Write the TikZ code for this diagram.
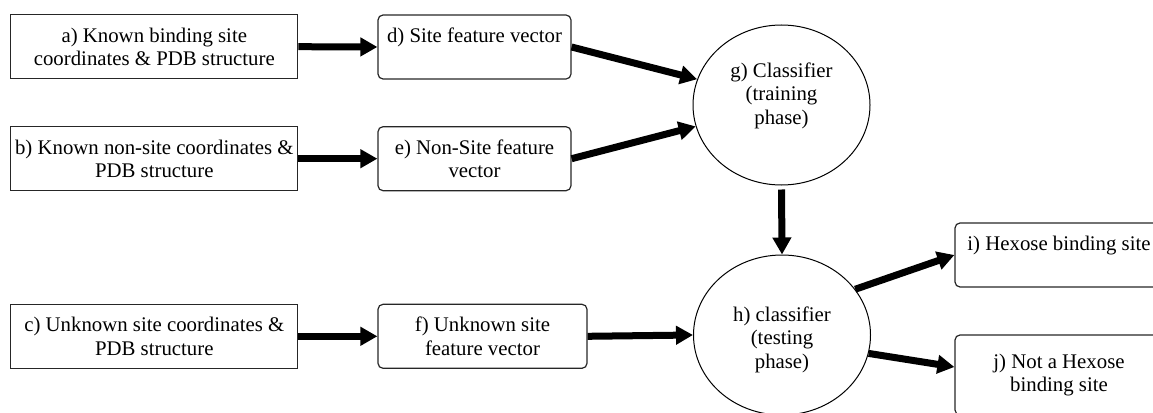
\documentclass[tikz,border=0pt]{standalone}
\usepackage{fontspec}
\setmainfont{Liberation Serif}
\usetikzlibrary{arrows.meta,shapes.geometric}
\begin{document}
\begin{tikzpicture}[x=1pt,y=-1pt,
  txt/.style={font=\fontsize{20.8}{23.5}\selectfont, align=center, text=black},
  sqbox/.style={txt, draw=black!85, line width=1.2pt, rectangle, inner sep=0pt, minimum height=64pt},
  rbox/.style={sqbox, rounded corners=5pt},
  oval/.style={txt, draw=black, line width=1pt, ellipse, inner sep=0pt, minimum width=177pt, minimum height=160pt},
  flow/.style={line width=7pt, -{Triangle[length=17pt,width=18pt]}},
]
\useasboundingbox (0,0) rectangle (1153,412);

\node[sqbox, minimum width=287pt] (a) at (154.3,46.7) {a) Known binding site\\coordinates \& PDB structure};
\node[sqbox, minimum width=287pt] (b) at (154.3,158.7) {b) Known non-site coordinates \&\\PDB structure};
\node[sqbox, minimum width=287pt] (c) at (154.3,336.3) {c) Unknown site coordinates \&\\PDB structure};

\node[rbox, minimum width=193pt] (d) at (474.5,47) {d) Site feature vector\\\mbox{}};
\node[rbox, minimum width=193pt] (e) at (474.5,158.7) {e) Non-Site feature\\vector};
\node[rbox, minimum width=209pt] (f) at (482.5,336.3) {f) Unknown site\\feature vector};

\node[oval] (g) at (781.5,105) {g) Classifier\\(training\\phase)\\\mbox{}};
\node[oval] (h) at (782,335) {\mbox{}\\h) classifier\\(testing\\phase)};

\node[rbox, minimum width=208pt] (i) at (1059,255) {i) Hexose binding site\\\mbox{}};
\node[rbox, minimum width=208pt, minimum height=80pt] (j) at (1059,375) {j) Not a Hexose\\binding site};

\draw[flow] (a.east) -- (d.west);
\draw[flow] (b.east) -- (e.west);
\draw[flow] (c.east) -- (f.west);
\draw[flow] (d.east) -- (g.163.3);
\draw[flow] (e.east) -- (g.-166.4);
\draw[flow, shorten <=4pt] (g.south) -- (h.north);
\draw[flow] (f.east) -- (h.west);
\draw[flow] (h.32) -- (i.west);
\draw[flow] (h.-12.4) -- ([yshift=8pt]j.west);
\end{tikzpicture}
\end{document}
